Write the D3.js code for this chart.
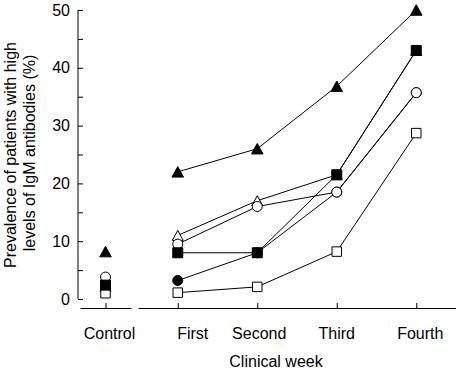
<!DOCTYPE html>
<html>
<head>
<meta charset="utf-8">
<script src="https://cdn.jsdelivr.net/npm/d3@7"></script>
<style>
  body { margin: 0; background: #fff; }
  text { font-family: "Liberation Sans", Arial, sans-serif; font-size: 16px; fill: #000; }
</style>
</head>
<body>
<div id="container"></div>
<script>
// categories
let controlLabel = ["Control"];
let weeks = ["First", "Second", "Third", "Fourth"];
let yTicks = [0, 10, 20, 30, 40, 50];
let yMinorTicks = [0, 5, 10, 15, 20, 25, 30, 35, 40, 45, 50];

// series values: [control, first, second, third, fourth]
let openTriangle   = [2.2, 11, 17, 21.5, 43];
let filledCircle   = [2.8, 3.2, 8, 18.5, 35.7];
let openSquare     = [1.0, 1.1, 2.1, 8.2, 28.7];
let openCircle     = [3.8, 9.5, 16, 18.5, 35.7];
let filledSquare   = [2.4, 8, 8, 21.5, 43];
let filledTriangle = [8.2, 22, 26, 36.8, 50];

let w = 456;
let h = 372;

let svg = d3.select("#container")
  .append("svg")
    .attr("width", w)
    .attr("height", h)
;

// scales
let yScale = d3.scaleLinear().domain([0, 50]).range([299, 10]);
let xControl = d3.scalePoint().domain(controlLabel).range([80, 131]).padding(0.5);
let xWeek = d3.scalePoint().domain(weeks).range([138, 456]).padding(0.5);

// y axis (ticks point inward)
let yAxis = d3.axisRight(yScale).tickValues(yMinorTicks).tickSize(5).tickFormat("");
let yAxisGroup = svg.append("g")
    .attr("transform", "translate(78,0)")
    .call(yAxis);
yAxisGroup.select(".domain").attr("d", "M0," + yScale(0) + "V" + yScale(50));

svg.append("g").selectAll("text")
  .data(yTicks)
  .enter()
  .append("text")
    .attr("x", 70)
    .attr("y", function(d){ return yScale(d); })
    .attr("dy", "0.35em")
    .attr("text-anchor", "end")
    .text(function(d){ return d; });

// x axes (broken), ticks pointing up
let xAxisY = 308;
let xAxisC = d3.axisTop(xControl).tickSize(5).tickSizeOuter(0).tickFormat("");
let xAxisW = d3.axisTop(xWeek).tickSize(5).tickSizeOuter(0).tickFormat("");
svg.append("g").attr("transform", "translate(0," + xAxisY + ")").call(xAxisC);
svg.append("g").attr("transform", "translate(0," + xAxisY + ")").call(xAxisW);

svg.selectAll(".domain, .tick line").attr("stroke", "#000").attr("stroke-width", 1);

// labels sit a little off their ticks in the original
let labelShift = { "Control": 4, "First": 15, "Second": 2, "Third": 0, "Fourth": 4 };
svg.append("g").selectAll("text")
  .data(controlLabel.concat(weeks))
  .enter()
  .append("text")
    .attr("x", function(d){
      let base = d === "Control" ? xControl(d) : xWeek(d);
      return base + labelShift[d];
    })
    .attr("y", 339)
    .attr("text-anchor", "middle")
    .text(function(d){ return d; });

svg.append("text")
  .attr("x", 276)
  .attr("y", 367)
  .attr("text-anchor", "middle")
  .text("Clinical week");

// y title, two lines
svg.append("text")
  .attr("transform", "translate(15.5,155) rotate(-90)")
  .attr("text-anchor", "middle")
  .text("Prevalence of patients with high");
svg.append("text")
  .attr("transform", "translate(35,153) rotate(-90)")
  .attr("text-anchor", "middle")
  .text("levels of IgM antibodies (%)");

// bbox-centred triangle so it sits over the point like the original
let triangle = {
  draw: function(context, size){
    let s = Math.sqrt(size);
    context.moveTo(0, -s / 2);
    context.lineTo(s * 0.55, s / 2);
    context.lineTo(-s * 0.55, s / 2);
    context.closePath();
  }
};

// series drawing
let series = [
  { values: openTriangle,   shape: triangle,        fill: "#fff", size: 100 },
  { values: filledCircle,   shape: d3.symbolCircle, fill: "#000", size: 78 },
  { values: openSquare,     shape: d3.symbolSquare, fill: "#fff", size: 90 },
  { values: openCircle,     shape: d3.symbolCircle, fill: "#fff", size: 78 },
  { values: filledSquare,   shape: d3.symbolSquare, fill: "#000", size: 100 },
  { values: filledTriangle, shape: triangle,        fill: "#000", size: 110 }
];

let lineMaker = d3.line()
  .x(function(d, i){ return xWeek(weeks[i]); })
  .y(function(d){ return yScale(d); });

series.forEach(function(s){
  svg.append("path")
    .datum(s.values.slice(1))
    .attr("d", lineMaker)
    .attr("fill", "none")
    .attr("stroke", "#000")
    .attr("stroke-width", 1);
});

series.forEach(function(s){
  let pts = s.values.map(function(v, i){
    return { x: i === 0 ? xControl("Control") : xWeek(weeks[i - 1]), y: yScale(v) };
  });
  svg.append("g").selectAll("path")
    .data(pts)
    .enter()
    .append("path")
      .attr("transform", function(d){ return "translate(" + d.x + "," + d.y + ")"; })
      .attr("d", d3.symbol().type(s.shape).size(s.size))
      .attr("fill", s.fill)
      .attr("stroke", "#000")
      .attr("stroke-width", 1);
});
</script>
</body>
</html>
